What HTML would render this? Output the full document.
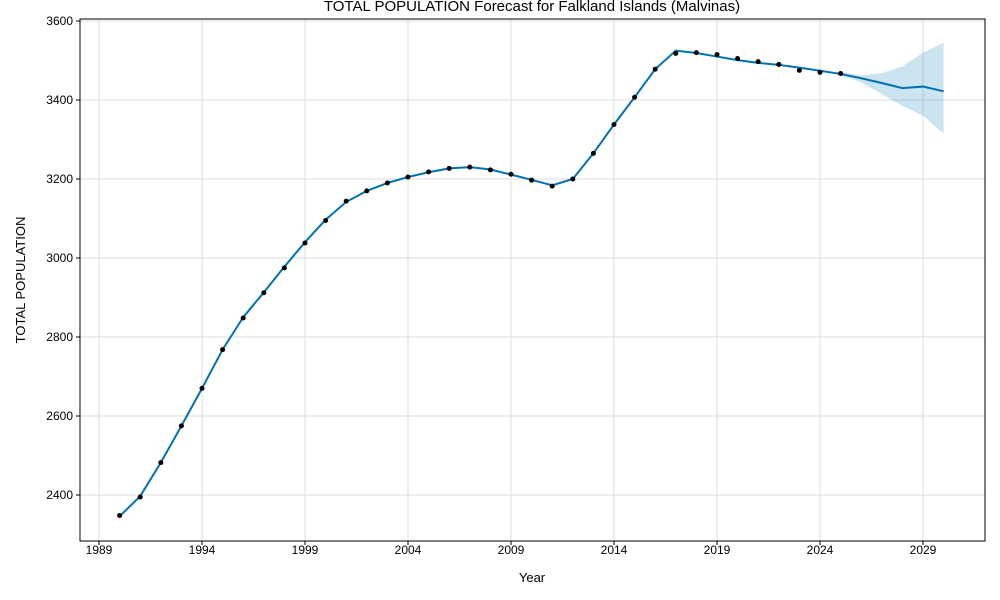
<!DOCTYPE html>
<html><head><meta charset="utf-8"><style>
body{margin:0;background:#fff;}
svg{display:block;font-family:"Liberation Sans","DejaVu Sans",sans-serif;}
</style></head><body>
<svg id="chart" width="1000" height="600"></svg>
<script>
const years=[1990,1991,1992,1993,1994,1995,1996,1997,1998,1999,2000,2001,2002,2003,2004,2005,2006,2007,2008,2009,2010,2011,2012,2013,2014,2015,2016,2017,2018,2019,2020,2021,2022,2023,2024,2025];
const actual=[2348,2395,2482,2575,2670,2768,2848,2912,2975,3038,3095,3144,3170,3190,3205,3218,3227,3230,3223,3212,3197,3182,3200,3265,3338,3407,3478,3518,3520,3515,3505,3497,3490,3475,3470,3467];
const fYears=[1990,1991,1992,1993,1994,1995,1996,1997,1998,1999,2000,2001,2002,2003,2004,2005,2006,2007,2008,2009,2010,2011,2012,2013,2014,2015,2016,2017,2018,2019,2020,2021,2022,2023,2024,2025,2026,2027,2028,2029,2030];
const yhat=[2346,2397,2482,2575,2670,2768,2850,2913,2978,3040,3097,3142,3170,3190,3205,3217,3227,3230,3224,3211,3198,3184,3200,3265,3338,3407,3478,3525,3519,3510,3501,3494,3489,3482,3474,3466,3455,3443,3430,3434,3422];
const bandYears=[2025,2026,2027,2028,2029,2030];
const upper=[3470,3462,3468,3485,3520,3545];
const lower=[3462,3445,3415,3385,3360,3315];
const xTicks=[1989,1994,1999,2004,2009,2014,2019,2024,2029];
const yTicks=[2400,2600,2800,3000,3200,3400,3600];

const L=80,R=985,T=19,B=541;
const X=v=>99+(v-1989)*(824/40);
const Y=v=>21+(3600-v)*(474/1200);
const svg=document.getElementById('chart');
const NS='http://www.w3.org/2000/svg';
function mk(tag,attrs,parent){const e=document.createElementNS(NS,tag);for(const k in attrs)e.setAttribute(k,attrs[k]);(parent||svg).appendChild(e);return e;}

const grid=mk('g',{});


xTicks.forEach(t=>{mk('line',{x1:X(t),x2:X(t),y1:T,y2:B,stroke:'#dcdcdc','stroke-width':1},grid);});
yTicks.forEach(t=>{mk('line',{x1:L,x2:R,y1:Y(t),y2:Y(t),stroke:'#dcdcdc','stroke-width':1},grid);});

let d='M'+bandYears.map((y,i)=>X(y)+','+Y(upper[i])).join('L');
for(let i=bandYears.length-1;i>=0;i--)d+='L'+X(bandYears[i])+','+Y(lower[i]);
const band=mk('path',{d:d+'Z',fill:'#0072B2','fill-opacity':0.2,stroke:'none'});



const line=mk('path',{d:'M'+fYears.map((y,i)=>X(y)+','+Y(yhat[i])).join('L'),fill:'none',stroke:'#0072B2','stroke-width':2});



years.forEach((y,i)=>{const c=mk('circle',{cx:X(y),cy:Y(actual[i]),r:2.5,fill:'#000'});

});

const frame=mk('rect',{x:L,y:T,width:R-L,height:B-T,fill:'none',stroke:'#000','stroke-width':1});



xTicks.forEach(t=>{mk('line',{x1:X(t),x2:X(t),y1:B,y2:B+4,stroke:'#000'});
const tx=mk('text',{x:X(t),y:B+13,'text-anchor':'middle','font-size':12});tx.textContent=t;

});
yTicks.forEach(t=>{mk('line',{x1:L-4,x2:L,y1:Y(t),y2:Y(t),stroke:'#000'});
const tx=mk('text',{x:L-7,y:Y(t)+4,'text-anchor':'end','font-size':12});tx.textContent=t;

});
</script>
<svg style="position:absolute;left:0;top:0" width="1000" height="600">
<text x="532" y="582" text-anchor="middle" font-size="13" font-family="Liberation Sans,sans-serif">Year</text>
<text x="0" y="0" transform="translate(25,280) rotate(-90)" text-anchor="middle" font-size="13" font-family="Liberation Sans,sans-serif">TOTAL POPULATION</text>
<text x="532" y="11" text-anchor="middle" font-size="15" font-family="Liberation Sans,sans-serif">TOTAL POPULATION Forecast for Falkland Islands (Malvinas)</text>
</svg>
</body></html>
